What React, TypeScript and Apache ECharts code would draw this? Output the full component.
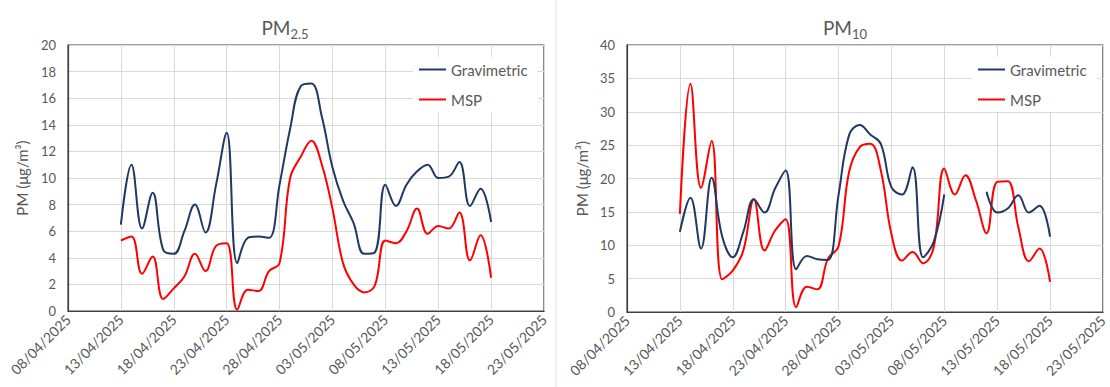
import { useEffect, useRef } from "react";
import * as echarts from "echarts";

// Sampling days (one value per day)
const dates = [
  "13/04/2025", "14/04/2025", "15/04/2025", "16/04/2025", "17/04/2025", "18/04/2025",
  "19/04/2025", "20/04/2025", "21/04/2025", "22/04/2025", "23/04/2025", "24/04/2025",
  "25/04/2025", "26/04/2025", "27/04/2025", "28/04/2025", "29/04/2025", "30/04/2025",
  "01/05/2025", "02/05/2025", "03/05/2025", "04/05/2025", "05/05/2025", "06/05/2025",
  "07/05/2025", "08/05/2025", "09/05/2025", "10/05/2025", "11/05/2025", "12/05/2025",
  "13/05/2025", "14/05/2025", "15/05/2025", "16/05/2025", "17/05/2025", "18/05/2025",
];

// Date axis tick labels (every 5 days)
const tickLabels = [
  "08/04/2025", "13/04/2025", "18/04/2025", "23/04/2025", "28/04/2025",
  "03/05/2025", "08/05/2025", "13/05/2025", "18/05/2025", "23/05/2025",
];

// PM2.5 (µg/m³)
const pm25Gravimetric = [
  6.5, 11.0, 6.2, 8.9, 4.6, 4.3, 6.0, 8.0, 5.9, 9.5, 13.4, 3.6,
  5.5, 5.6, 5.5, 9.5, 13.7, 16.9, 17.1, 14.6, 10.8, 8.3, 6.6, 4.3,
  4.4, 9.5, 7.9, 9.5, 10.5, 11.0, 10.0, 10.1, 11.2, 7.9, 9.2, 6.7,
];
const pm25Msp = [
  5.3, 5.6, 2.8, 4.1, 0.9, 1.7, 2.6, 4.3, 3.0, 4.9, 5.1, 0.1,
  1.6, 1.5, 3.0, 3.6, 10.0, 11.6, 12.8, 11.0, 7.7, 3.6, 2.0, 1.4,
  1.9, 5.3, 5.1, 6.0, 7.7, 5.8, 6.4, 6.2, 7.4, 3.8, 5.7, 2.5,
];

// PM10 (µg/m³); null = no gravimetric sample
const pm10Gravimetric = [
  12.0, 17.1, 9.5, 20.1, 11.3, 8.2, 12.0, 16.9, 14.9, 18.5, 21.2, 6.4,
  8.4, 7.9, 7.8, 17.5, 26.5, 28.0, 26.6, 25.2, 18.7, 17.6, 21.7, 8.2,
  10.5, 17.6, null, null, null, 18.0, 14.9, 15.5, 17.5, 14.9, 15.9, 11.3,
];
const pm10Msp = [
  14.7, 34.2, 18.6, 25.6, 4.9, 6.2, 9.2, 16.9, 9.2, 12.2, 13.9, 0.7,
  3.8, 3.4, 8.0, 9.8, 21.0, 24.7, 25.2, 21.2, 11.7, 7.7, 9.0, 7.3,
  9.7, 21.5, 17.6, 20.5, 16.7, 11.8, 19.5, 19.6, 12.7, 7.6, 9.5, 4.5,
];

const BLUE = "#1F3864";
const RED = "#FF0000";
const TEXT = "#595959";
const FONT = "Lato, 'Open Sans', sans-serif";

const parseDay = (s: string) => {
  const [d, m, y] = s.split("/").map(Number);
  return Date.UTC(y, m - 1, d);
};
const origin = parseDay(tickLabels[0]);
const dayIndex = (s: string) => Math.round((parseDay(s) - origin) / 86400000);

const toPoints = (values: (number | null)[]) =>
  dates.map((d, i) => [dayIndex(d), values[i] === null ? "-" : values[i]]);

const xAxisFor = (gridIndex: number) => ({
  type: "value",
  gridIndex,
  min: 0,
  max: 45,
  interval: 5,
  axisLine: { show: true, lineStyle: { color: "#404040", width: 1.2 } },
  axisTick: { show: false },
  splitLine: { show: true, lineStyle: { color: "#D9D9D9", width: 1 } },
  axisLabel: {
    rotate: 45,
    margin: 6,
    color: TEXT,
    fontFamily: FONT,
    fontSize: 14,
    showMinLabel: true,
    showMaxLabel: true,
    formatter: (v: number) => tickLabels[Math.round(v / 5)] ?? "",
  },
});

const yAxisFor = (gridIndex: number, max: number, interval: number, nameGap: number) => ({
  type: "value",
  gridIndex,
  min: 0,
  max,
  interval,
  name: "PM (μg/m³)",
  nameLocation: "middle",
  nameGap,
  nameTextStyle: { color: TEXT, fontFamily: FONT, fontSize: 15 },
  axisLine: { show: true, lineStyle: { color: "#404040", width: 1.2 } },
  axisTick: { show: false },
  splitLine: { show: true, lineStyle: { color: "#D9D9D9", width: 1 } },
  axisLabel: { color: TEXT, fontFamily: FONT, fontSize: 13, margin: 12 },
});

const legendFor = (left: number, top: number) => ({
  left,
  top,
  orient: "vertical",
  itemWidth: 27,
  itemHeight: 14,
  itemGap: 15,
  padding: [5, 10, 5, 5],
  backgroundColor: "#FFFFFF",
  // plain line keys, no marker dot
  itemStyle: { opacity: 0 },
  lineStyle: { width: 2 },
  textStyle: { color: TEXT, fontFamily: FONT, fontSize: 15 },
  data: ["Gravimetric", "MSP"],
});

const lineSeries = (name: string, color: string, idx: number, values: (number | null)[]) => ({
  name,
  type: "line",
  xAxisIndex: idx,
  yAxisIndex: idx,
  data: toPoints(values),
  smooth: 0.4,
  symbol: "none",
  connectNulls: false,
  lineStyle: { color, width: 2 },
  itemStyle: { color },
  z: name === "MSP" ? 2 : 3,
});

const titleText = (x: number, sub: string) => ({
  type: "text",
  x,
  y: 29,
  style: {
    text: `{m|PM}{s|${sub}}`,
    align: "center",
    verticalAlign: "middle",
    fill: TEXT,
    rich: {
      m: { fontSize: 19, fontFamily: FONT, fill: TEXT, verticalAlign: "bottom", padding: [0, 0, 4, 0] },
      s: { fontSize: 13, fontFamily: FONT, fill: TEXT, verticalAlign: "bottom" },
    },
  },
});

export default function App() {
  const ref = useRef<HTMLDivElement>(null);

  useEffect(() => {
    if (!ref.current) return;
    const chart = echarts.init(ref.current, undefined, { renderer: "svg" });
    chart.setOption({
      animation: false,
      backgroundColor: "#FFFFFF",
      textStyle: { fontFamily: FONT },
      grid: [
        { left: 68, top: 45, width: 476, height: 266, show: true, borderColor: "#404040", borderWidth: 1.2, backgroundColor: "transparent" },
        { left: 627, top: 45, width: 477, height: 267, show: true, borderColor: "#404040", borderWidth: 1.2, backgroundColor: "transparent" },
      ],
      xAxis: [xAxisFor(0), xAxisFor(1)],
      yAxis: [yAxisFor(0, 20, 2, 39), yAxisFor(1, 40, 5, 38)],
      legend: [legendFor(413, 57), legendFor(972, 57)],
      series: [
        lineSeries("Gravimetric", BLUE, 0, pm25Gravimetric),
        lineSeries("MSP", RED, 0, pm25Msp),
        lineSeries("Gravimetric", BLUE, 1, pm10Gravimetric),
        lineSeries("MSP", RED, 1, pm10Msp),
      ],
      graphic: [
        titleText(285, "2.5"),
        titleText(845, "10"),
        {
          type: "line",
          shape: { x1: 556, y1: 0, x2: 556, y2: 387 },
          style: { stroke: "#E0E0E0", lineWidth: 1 },
        },
      ],
    });
    return () => chart.dispose();
  }, []);

  return (
    <div
      ref={ref}
      style={{ position: "absolute", left: 0, top: 0, width: 1110, height: 387 }}
    />
  );
}
